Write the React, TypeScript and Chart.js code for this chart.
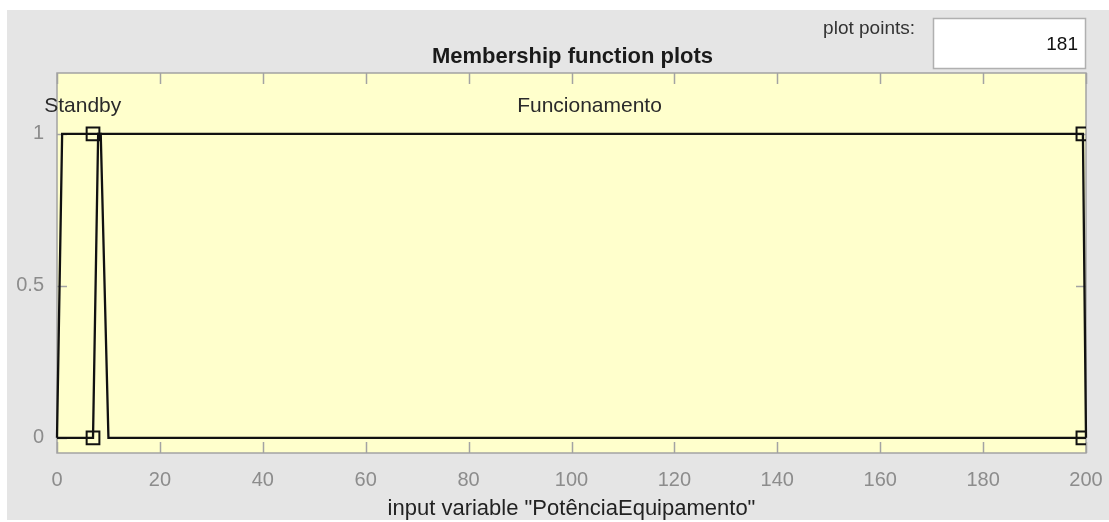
import React, { useEffect, useRef } from "react";
import { Chart, registerables } from "chart.js";

Chart.register(...registerables);

// ---- data ----
const xTickValues = [0, 20, 40, 60, 80, 100, 120, 140, 160, 180, 200];
const yTickValues = [0, 0.5, 1];
const standbyX = [0, 1, 8.5, 10, 200];
const standbyY = [0, 1, 1, 0, 0];
const funcX = [0, 7, 8, 199.4, 200];
const funcY = [0, 0, 1, 1, 0];
const markerX = [7, 7, 199.4, 199.4];
const markerY = [0, 1, 1, 0];
const mfNames = ["Standby", "Funcionamento"];
const mfLabelX = [5, 103.5];
const mfLabelY = [1.09, 1.09];
const titleText = "Membership function plots";
const xTitleText = 'input variable "PotênciaEquipamento"';
const plotPointsLabel = "plot points:";
const plotPointsValue = "181";
const xRange = [0, 200];
const yRange = [-0.05, 1.2];

const FONT = '"Liberation Sans", Arial, Helvetica, sans-serif';

const toPts = (xs: number[], ys: number[]) => xs.map((x, i) => ({ x, y: ys[i] }));

const decor = {
  id: "decor",
  beforeDraw(chart: any) {
    const { ctx, width, height, chartArea: a } = chart;
    ctx.save();
    ctx.fillStyle = "#ffffff";
    ctx.fillRect(0, 0, width, height);
    ctx.fillStyle = "#e5e5e5";
    ctx.fillRect(7, 10, width - 7, height - 12);
    ctx.fillStyle = "#ffffcc";
    ctx.fillRect(a.left, a.top, a.right - a.left, a.bottom - a.top);

    // plot points edit box
    ctx.fillStyle = "#ffffff";
    ctx.fillRect(933, 18, 153, 51);
    ctx.strokeStyle = "#b0b0b0";
    ctx.lineWidth = 1.5;
    ctx.strokeRect(933.5, 18.5, 152, 50);

    ctx.textBaseline = "middle";
    ctx.fillStyle = "#333333";
    ctx.font = `19px ${FONT}`;
    ctx.textAlign = "right";
    ctx.fillText(plotPointsLabel, 915, 29);
    ctx.fillStyle = "#111111";
    ctx.font = `19px ${FONT}`;
    ctx.fillText(plotPointsValue, 1078, 45);

    // title
    ctx.textAlign = "center";
    ctx.fillStyle = "#1a1a1a";
    ctx.font = `bold 22px ${FONT}`;
    ctx.fillText(titleText, (a.left + a.right) / 2 + 1, 57);
    ctx.restore();
  },
  beforeDatasetsDraw(chart: any) {
    const { ctx, chartArea: a, scales } = chart;
    const xs = scales.x;
    const ys = scales.y;
    ctx.save();
    ctx.strokeStyle = "#a3a3a3";
    ctx.lineWidth = 1.5;
    ctx.beginPath();
    xTickValues.forEach((v) => {
      const px = Math.round(xs.getPixelForValue(v)) + 0.5;
      ctx.moveTo(px, a.top);
      ctx.lineTo(px, a.top + 11);
      ctx.moveTo(px, a.bottom);
      ctx.lineTo(px, a.bottom - 11);
    });
    yTickValues.forEach((v) => {
      const py = Math.round(ys.getPixelForValue(v)) + 0.5;
      ctx.moveTo(a.left, py);
      ctx.lineTo(a.left + 10, py);
      ctx.moveTo(a.right, py);
      ctx.lineTo(a.right - 10, py);
    });
    ctx.stroke();
    ctx.strokeRect(a.left, a.top, a.right - a.left, a.bottom - a.top);

    // MF labels
    ctx.fillStyle = "#2a2a2a";
    ctx.font = `21px ${FONT}`;
    ctx.textAlign = "center";
    ctx.textBaseline = "middle";
    mfNames.forEach((n, i) => {
      ctx.fillText(n, xs.getPixelForValue(mfLabelX[i]), ys.getPixelForValue(mfLabelY[i]));
    });
    ctx.restore();
  },
};

export default function App() {
  const ref = useRef<HTMLCanvasElement | null>(null);
  useEffect(() => {
    if (!ref.current) return;
    const lineDs = (label: string, xs: number[], ys: number[]) => ({
      label,
      data: toPts(xs, ys),
      borderColor: "#111111",
      borderWidth: 2.3,
      pointRadius: 0,
      fill: false,
      tension: 0,
      clip: 2,
    });
    const chart = new Chart(ref.current, {
      type: "line",
      data: {
        datasets: [
          lineDs(mfNames[0], standbyX, standbyY),
          lineDs(mfNames[1], funcX, funcY),
          {
            label: "markers",
            data: toPts(markerX, markerY),
            showLine: false,
            pointStyle: "rect",
            pointRadius: 9,
            pointBorderWidth: 2,
            pointBorderColor: "#111111",
            pointBackgroundColor: "rgba(0,0,0,0)",
            clip: 0,
          } as any,
        ],
      },
      options: {
        animation: false,
        responsive: false,
        devicePixelRatio: 1,
        layout: { padding: { left: 0, top: 73, right: 23, bottom: 0 } },
        plugins: {
          legend: { display: false },
          tooltip: { enabled: false },
          title: { display: false },
        },
        events: [],
        scales: {
          x: {
            type: "linear",
            min: xRange[0],
            max: xRange[1],
            afterBuildTicks: (s: any) => {
              s.ticks = xTickValues.map((v) => ({ value: v }));
            },
            afterFit: (s: any) => {
              s.height = 69;
              s.paddingLeft = 0;
              s.paddingRight = 0;
            },
            grid: { display: false, drawTicks: false },
            border: { display: false },
            ticks: {
              color: "#8c8c8c",
              font: { family: FONT, size: 20 },
              padding: 15,
              maxRotation: 0,
              autoSkip: false,
              callback: (v: any) => String(v),
            },
            title: {
              display: true,
              text: xTitleText,
              color: "#222222",
              font: { family: FONT, size: 22 },
              padding: { top: 0, bottom: 0 },
            },
          },
          y: {
            type: "linear",
            min: yRange[0],
            max: yRange[1],
            afterBuildTicks: (s: any) => {
              s.ticks = yTickValues.map((v) => ({ value: v }));
            },
            afterFit: (s: any) => {
              s.width = 57;
              s.paddingTop = 0;
              s.paddingBottom = 0;
            },
            grid: { display: false, drawTicks: false },
            border: { display: false },
            ticks: {
              color: "#8c8c8c",
              font: { family: FONT, size: 20 },
              padding: 13,
              autoSkip: false,
              callback: (v: any) => String(v),
            },
          },
        },
      },
      plugins: [decor],
    });
    return () => chart.destroy();
  }, []);
  return (
    <div style={{ position: "absolute", left: 0, top: 0, width: 1109, height: 522 }}>
      <canvas ref={ref} width={1109} height={522} style={{ width: 1109, height: 522, display: "block" }} />
    </div>
  );
}
